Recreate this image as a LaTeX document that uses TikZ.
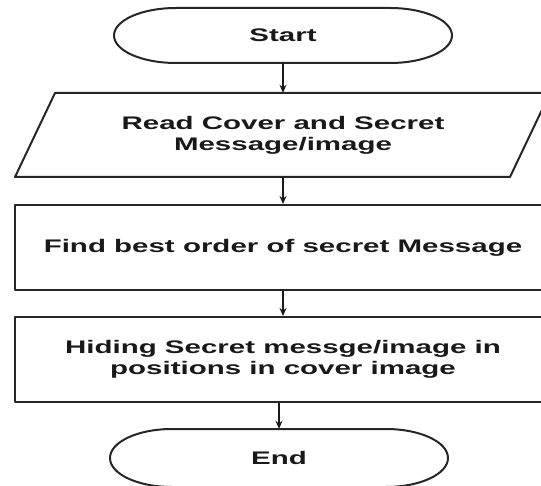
\documentclass[tikz,border=0pt]{standalone}
\usepackage{fontspec}
\setmainfont{Liberation Sans}[FakeStretch=1.62]
\usetikzlibrary{arrows.meta}
\begin{document}
\begin{tikzpicture}[x=1pt,y=1pt,
  lbl/.style={font=\bfseries\fontsize{18.2}{21}\selectfont, align=center, text=black!90, inner sep=0pt},
  outline/.style={draw=black!85, line width=2pt, line join=round},
  flow/.style={draw=black!90, line width=1.8pt, -{Stealth[length=8pt,width=7pt]}}]
\useasboundingbox (0,0) rectangle (541,485);
% Start terminal
\node[lbl, minimum width=338pt, minimum height=55pt] (start) at (283,449.5) {Start};
\draw[outline] (176,477) -- (390,477)
  arc[start angle=90,end angle=-90,x radius=62,y radius=27.5] -- (176,422)
  arc[start angle=270,end angle=90,x radius=62,y radius=27.5] -- cycle;
% Input parallelogram
\node[lbl, minimum width=455pt, minimum height=84pt] (read) at (283,350) {Read Cover and Secret\\Message/image};
\draw[outline] (55,392) -- (550,392) -- (510,308) -- (15,308) -- cycle;
% Process boxes
\node[lbl, outline, minimum width=536pt, minimum height=85pt] (find) at (283,237.5) {Find best order of secret Message};
\node[lbl, outline, minimum width=536pt, minimum height=85pt] (hide) at (283,125.5) {Hiding Secret messge/image in\\positions in cover image};
% End terminal
\node[lbl, minimum width=338pt, minimum height=58pt] (end) at (279,27) {End};
\draw[outline] (172,56) -- (386,56)
  arc[start angle=90,end angle=-90,x radius=62,y radius=29] -- (172,-2)
  arc[start angle=270,end angle=90,x radius=62,y radius=29] -- cycle;
% Connectors
\draw[flow] (start.south) -- (read.north);
\draw[flow] (read.south) -- (find.north);
\draw[flow] (find.south) -- (hide.north);
\draw[flow] (end.north |- hide.south) -- (end.north);
\end{tikzpicture}
\end{document}
